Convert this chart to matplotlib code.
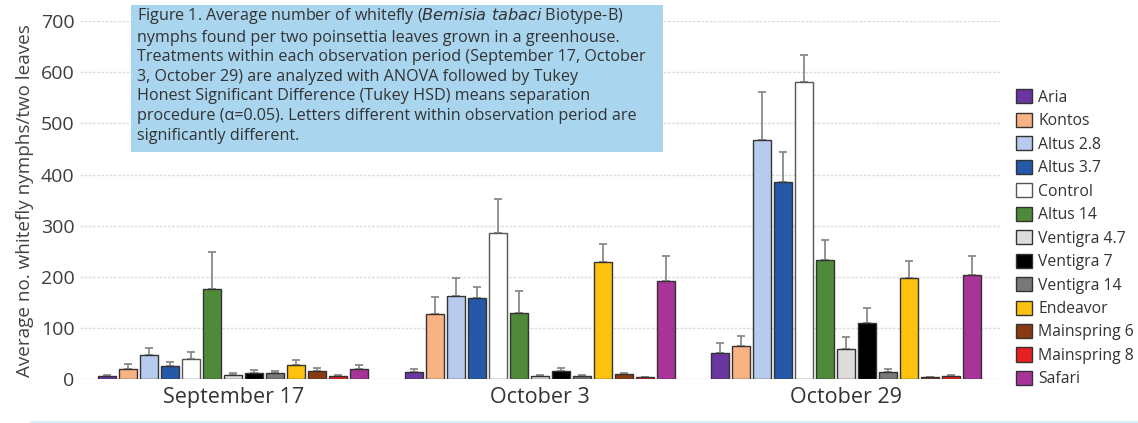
import matplotlib.pyplot as plt
import numpy as np
from matplotlib.lines import Line2D
from matplotlib.patches import Rectangle

plt.rcParams['font.family'] = ['Open Sans', 'DejaVu Sans']

periods = ['September 17', 'October 3', 'October 29']
treatments = ['Aria', 'Kontos', 'Altus 2.8', 'Altus 3.7', 'Control', 'Altus 14',
              'Ventigra 4.7', 'Ventigra 7', 'Ventigra 14', 'Endeavor',
              'Mainspring 6', 'Mainspring 8', 'Safari']

# mean nymphs per treatment, one list per observation period
sep17 = [6, 20, 46, 25, 40, 177, 8, 12, 12, 28, 16, 5, 20]
oct3 = [13, 128, 162, 159, 286, 130, 6, 16, 5, 228, 10, 3, 192]
oct29 = [50, 65, 468, 386, 580, 232, 59, 110, 14, 198, 3, 5, 204]

# standard error (upper whisker only)
sep17_err = [2, 9, 15, 9, 12, 72, 3, 5, 3, 10, 5, 2, 7]
oct3_err = [7, 32, 35, 20, 66, 43, 2, 6, 2, 36, 2, 0, 48]
oct29_err = [20, 20, 93, 58, 53, 39, 24, 28, 6, 32, 0, 2, 36]

colors = ['#6b35a0', '#f9b382', '#b7cbee', '#2558a8', '#ffffff', '#4f8a3a',
          '#dcdcdc', '#000000', '#787878', '#fdc20e', '#8a3a12', '#e8201f', '#a8349a']

caption = ("Figure 1. Average number of whitefly ($\\it{Bemisia\\ tabaci}$ Biotype-B)\n"
           "nymphs found per two poinsettia leaves grown in a greenhouse.\n"
           "Treatments within each observation period (September 17, October\n"
           "3, October 29) are analyzed with ANOVA followed by Tukey\n"
           "Honest Significant Difference (Tukey HSD) means separation\n"
           "procedure (\u03b1=0.05). Letters different within observation period are\n"
           "significantly different.")

values = np.array([sep17, oct3, oct29])
errors = np.array([sep17_err, oct3_err, oct29_err])

fig = plt.figure(figsize=(11.38, 4.23), dpi=100)
ax = fig.add_axes([0.0703, 0.104, 0.808, 0.846])

n = len(treatments)
slot = 0.0685
width = slot * 0.86
x = np.arange(len(periods))

for i, name in enumerate(treatments):
    pos = x + (i - (n - 1) / 2) * slot
    edge = '#555555' if name == 'Control' else '#333333'
    ax.bar(pos, values[:, i], width, color=colors[i], edgecolor=edge,
           linewidth=1.0, label=name, zorder=3)
    ax.errorbar(pos, values[:, i], yerr=[np.zeros(3), errors[:, i]], fmt='none',
                ecolor='#8a8a8a', elinewidth=1.3, capsize=3, capthick=1.3, zorder=2)

ax.set_xlim(-0.5, 2.5)
ax.set_ylim(0, 700)
ax.set_yticks(range(0, 701, 100))
ax.set_xticks(x)
ax.set_xticklabels(periods, fontsize=15.5, color='#333333')
ax.tick_params(axis='y', labelsize=14, labelcolor='#3d3d3d', length=0, pad=4)
ax.tick_params(axis='x', length=0, pad=6)
ax.grid(axis='y', color='#dddddd', linestyle=(0, (2, 1)), linewidth=1, zorder=0)
for s in ax.spines.values():
    s.set_visible(False)
ax.set_ylabel('Average no. whitefly nymphs/two leaves', fontsize=13.6,
              color='#444444', labelpad=5)

handles, labels = ax.get_legend_handles_labels()
leg = fig.legend(handles, labels, loc='upper left', bbox_to_anchor=(0.8805, 0.822),
                 frameon=False, fontsize=11.3, handlelength=1.0, handleheight=1.0,
                 handletextpad=0.4, labelspacing=0.45, labelcolor='#333333')

# caption box
fig.add_artist(Rectangle((131 / 1138, 1 - 152 / 423), 532 / 1138, 147 / 423,
                         transform=fig.transFigure, facecolor='#a9d5ef',
                         edgecolor='none', zorder=4))
fig.text(137 / 1138, 1 - 6 / 423, caption, fontsize=11.6, color='#333333',
         va='top', ha='left', linespacing=1.3, zorder=5)

fig.add_artist(Line2D([0.027, 1.0], [0.003, 0.003], color='#d6eef8', linewidth=1.5))

fig.savefig('out.png', dpi=100)
